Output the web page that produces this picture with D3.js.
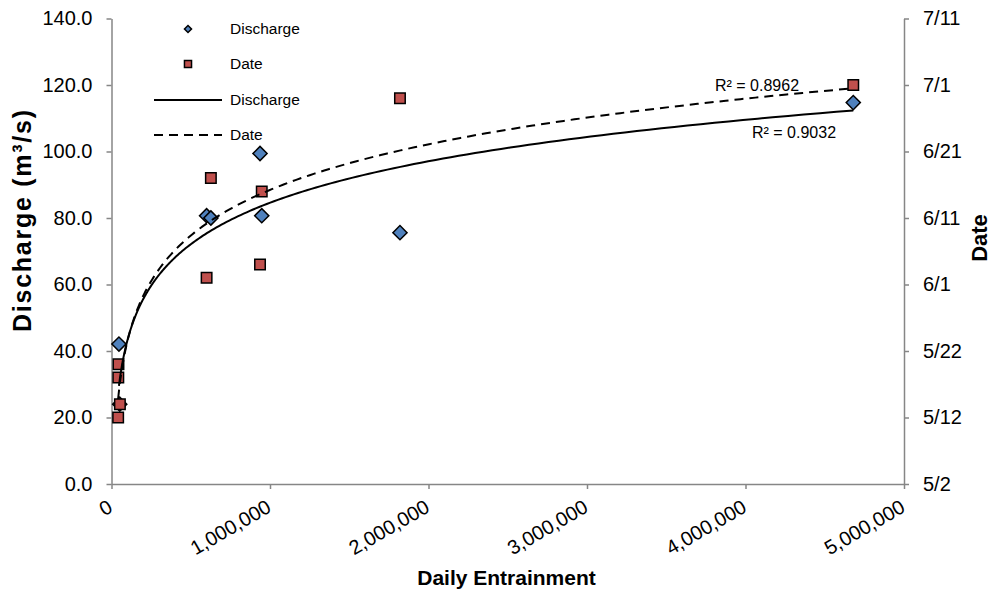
<!DOCTYPE html>
<html>
<head>
<meta charset="utf-8">
<script src="https://d3js.org/d3.v7.min.js"></script>
<style>
  body { margin: 0; background: #fff; }
  svg { font-family: "Liberation Sans", Arial, sans-serif; }
</style>
</head>
<body>
<svg id="chart" width="992" height="592"></svg>
<script>
// daily entrainment (x) and discharge (y), blue diamonds
var dischargeX = [47000, 52000, 600000, 627000, 937000, 948000, 1820000, 4680000];
var dischargeY = [42.1, 24.0, 80.7, 80.0, 99.4, 80.7, 75.6, 114.7];

// daily entrainment (x) and date (right axis), red squares
var dateX = [42000, 53000, 43000, 44000, 600000, 627000, 937000, 948000, 1820000, 4680000];
var dateY = ["5/12", "5/14", "5/18", "5/20", "6/2", "6/17", "6/4", "6/15", "6/29", "7/1"];

// log trendlines: y = a*ln(x) + b  (date trend is in days after 5/2)
var dischargeTrend = [18.0, -164.1];
var dateTrend = [9.9, -92.55];
var r2Labels = ["R² = 0.9032", "R² = 0.8962"];

// tick labels
var xTicks = [0, 1000000, 2000000, 3000000, 4000000, 5000000];
var yTicks = [0, 20, 40, 60, 80, 100, 120, 140];
var dateTicks = ["5/2", "5/12", "5/22", "6/1", "6/11", "6/21", "7/1", "7/11"];

var parseDate = function(s) { return d3.timeParse("%m/%d/%Y")(s + "/2009"); };
var start = parseDate(dateTicks[0]);

var svg = d3.select("#chart");
var plotLeft = 111.5, plotRight = 904, plotTop = 18.5, plotBottom = 484;
var axisColor = "#868686";

var x = d3.scaleLinear().domain([0, 5000000]).range([plotLeft, plotRight]);
var y = d3.scaleLinear().domain([0, 140]).range([plotBottom, plotTop]);
var yDate = d3.scaleTime().domain([start, parseDate("7/11")]).range([plotBottom, plotTop]);

function styleAxis(sel) {
    sel.select(".domain").attr("stroke", axisColor).attr("stroke-width", 1.5);
    sel.selectAll(".tick line").attr("stroke", axisColor).attr("stroke-width", 1.5);
    sel.selectAll(".tick text").attr("fill", "#000").style("font-size", "20px");
}

// left axis
svg.append("g")
    .attr("transform", "translate(" + plotLeft + ",0)")
    .call(d3.axisLeft(y).tickValues(yTicks).tickFormat(d3.format(".1f"))
        .tickSize(5).tickSizeOuter(0).tickPadding(14))
    .call(styleAxis);

// right axis (dates)
svg.append("g")
    .attr("transform", "translate(" + plotRight + ",0)")
    .call(d3.axisRight(yDate).tickValues(dateTicks.map(parseDate))
        .tickFormat(function(d, i) { return dateTicks[i]; })
        .tickSize(5).tickSizeOuter(0).tickPadding(14))
    .call(styleAxis);

// bottom axis
var xAxis = svg.append("g")
    .attr("transform", "translate(0," + plotBottom + ")")
    .call(d3.axisBottom(x).tickValues(xTicks).tickFormat(d3.format(","))
        .tickSize(5).tickSizeOuter(0))
    .call(styleAxis);
xAxis.selectAll(".tick text")
    .attr("x", 0).attr("y", 0).attr("dy", 0)
    .attr("text-anchor", "end")
    .attr("transform", "translate(2,27) rotate(-30)");

// trendlines
function trendPoints(xs, coef, toY) {
    var lo = Math.log(d3.min(xs)), hi = Math.log(d3.max(xs));
    return d3.range(0, 201).map(function(i) {
        var lx = lo + (hi - lo) * i / 200;
        return [x(Math.exp(lx)), toY(coef[0] * lx + coef[1])];
    });
}
var line = d3.line();

// markers
var diamond = d3.symbol(d3.symbolSquare, 100);
var square = d3.symbol(d3.symbolSquare, 110);

svg.append("g").selectAll("path")
    .data(d3.zip(dischargeX, dischargeY))
    .join("path")
    .attr("d", diamond)
    .attr("transform", function(d) { return "translate(" + x(d[0]) + "," + y(d[1]) + ") rotate(45)"; })
    .attr("fill", "#4F81BD").attr("stroke", "#000").attr("stroke-width", 1.5);

svg.append("g").selectAll("path")
    .data(d3.zip(dateX, dateY))
    .join("path")
    .attr("d", square)
    .attr("transform", function(d) { return "translate(" + x(d[0]) + "," + yDate(parseDate(d[1])) + ")"; })
    .attr("fill", "#C0504D").attr("stroke", "#000").attr("stroke-width", 1.5);

svg.append("path")
    .attr("d", line(trendPoints(dischargeX, dischargeTrend, y)))
    .attr("fill", "none").attr("stroke", "#000").attr("stroke-width", 2);

svg.append("path")
    .attr("d", line(trendPoints(dateX, dateTrend, function(v) {
        return yDate(new Date(start.getTime() + v * 864e5));
    })))
    .attr("fill", "none").attr("stroke", "#000").attr("stroke-width", 2)
    .attr("stroke-dasharray", "9,6");

// R² labels
svg.append("text").attr("x", 752).attr("y", 138).style("font-size", "16px").text(r2Labels[0]);
svg.append("text").attr("x", 715).attr("y", 91).style("font-size", "16px").text(r2Labels[1]);

// legend
var legend = svg.append("g").style("font-size", "15.5px");
legend.append("path").attr("d", d3.symbol(d3.symbolSquare, 25))
    .attr("transform", "translate(188,29) rotate(45)")
    .attr("fill", "#4F81BD").attr("stroke", "#000").attr("stroke-width", 1.5);
legend.append("path").attr("d", d3.symbol(d3.symbolSquare, 50))
    .attr("transform", "translate(188,64)")
    .attr("fill", "#C0504D").attr("stroke", "#000").attr("stroke-width", 1.5);
legend.append("line").attr("x1", 154).attr("x2", 222).attr("y1", 100).attr("y2", 100)
    .attr("stroke", "#000").attr("stroke-width", 2);
legend.append("line").attr("x1", 154).attr("x2", 222).attr("y1", 135).attr("y2", 135)
    .attr("stroke", "#000").attr("stroke-width", 2).attr("stroke-dasharray", "9,6");
["Discharge", "Date", "Discharge", "Date"].forEach(function(t, i) {
    legend.append("text").attr("x", 230).attr("y", [29, 64, 100, 135][i])
        .attr("dy", "0.35em").text(t);
});

// axis titles
svg.append("text").attr("x", 506.5).attr("y", 585).attr("text-anchor", "middle")
    .style("font-size", "21px").style("font-weight", "bold").text("Daily Entrainment");
svg.append("text").attr("transform", "translate(31,221) rotate(-90)").attr("text-anchor", "middle")
    .attr("textLength", 222).attr("lengthAdjust", "spacing")
    .style("font-size", "25px").style("font-weight", "bold").text("Discharge (m³/s)");
svg.append("text").attr("transform", "translate(987,238) rotate(-90)").attr("text-anchor", "middle")
    .style("font-size", "22px").style("font-weight", "bold").text("Date");
</script>
</body>
</html>
